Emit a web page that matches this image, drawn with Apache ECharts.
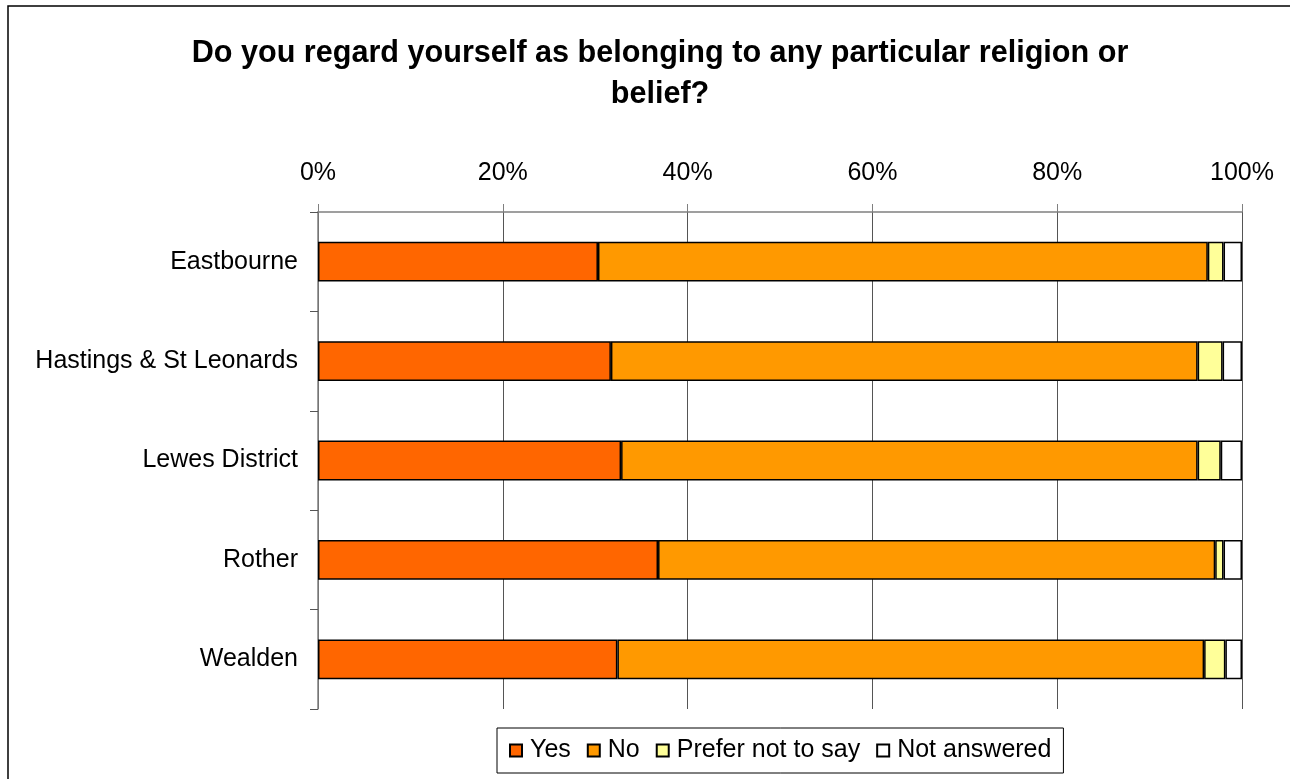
<!DOCTYPE html>
<html>
<head>
<meta charset="utf-8">
<script src="https://cdn.jsdelivr.net/npm/echarts@6/dist/echarts.min.js"></script>
<style>html,body{margin:0;padding:0;background:#fff}#c{width:1290px;height:779px}</style>
</head>
<body>
<div id="c"></div>
<script>
const categories = ['Eastbourne', 'Hastings & St Leonards', 'Lewes District', 'Rother', 'Wealden'];
const seriesNames = ['Yes', 'No', 'Prefer not to say', 'Not answered'];
const yesVals = [30.3, 31.7, 32.8, 36.8, 32.4];
const noVals = [66.0, 63.5, 62.4, 60.3, 63.5];
const preferVals = [1.7, 2.7, 2.5, 0.9, 2.3];
const notAnsweredVals = [2.0, 2.1, 2.3, 2.0, 1.8];
const xTicks = [0, 20, 40, 60, 80, 100];

const colors = ['#FF6600', '#FF9900', '#FFFF99', '#FFFFFF'];
const FONT = "'Liberation Sans', Arial, sans-serif";
const chart = echarts.init(document.getElementById('c'));
const allVals = [yesVals, noVals, preferVals, notAnsweredVals];
chart.setOption({
  backgroundColor: '#fff',
  animation: false,
  title: {
    text: 'Do you regard yourself as belonging to any particular religion or\nbelief?',
    left: 660, top: 33, textAlign: 'center', padding: 0,
    textStyle: { fontFamily: FONT, fontWeight: 'bold', fontSize: 30.6, lineHeight: 41, color: '#000' }
  },
  graphic: [{
    type: 'rect', shape: { x: 8, y: 6, width: 1300, height: 800 },
    style: { fill: 'none', stroke: '#000', lineWidth: 1.5 }, silent: true, z: 100
  }],
  legend: {
    data: seriesNames,
    left: 497, top: 728,
    padding: [10, 12, 10, 12],
    itemGap: 16, itemWidth: 12, itemHeight: 12,
    icon: 'rect',
    borderColor: '#000', borderWidth: 1,
    textStyle: { fontFamily: FONT, fontSize: 25, color: '#000', padding: [0, 0, 0, 3] }
  },
  grid: { left: 318, right: 48, top: 212, bottom: 70, containLabel: false },
  xAxis: {
    type: 'value', position: 'top', min: xTicks[0], max: xTicks[xTicks.length - 1], interval: 20,
    axisLabel: { formatter: '{value}%', fontFamily: FONT, fontSize: 25, color: '#000', margin: 26 },
    axisLine: { show: true, lineStyle: { color: '#808080', width: 1.5 } },
    axisTick: { show: true, length: 8, lineStyle: { color: '#808080' } },
    splitLine: { show: true, lineStyle: { color: '#555', width: 1 } }
  },
  yAxis: {
    type: 'category', data: categories, inverse: true,
    axisLabel: { fontFamily: FONT, fontSize: 25, color: '#000', margin: 20 },
    axisLine: { show: true, lineStyle: { color: '#808080', width: 1.5 } },
    axisTick: { show: true, length: 8, lineStyle: { color: '#555' } }
  },
  series: seriesNames.map((n, i) => ({
    name: n, type: 'bar', stack: 'total', barWidth: '40%',
    data: allVals[i],
    itemStyle: { color: colors[i], borderColor: '#000', borderWidth: 1.5 }
  }))
});
</script>
</body>
</html>
